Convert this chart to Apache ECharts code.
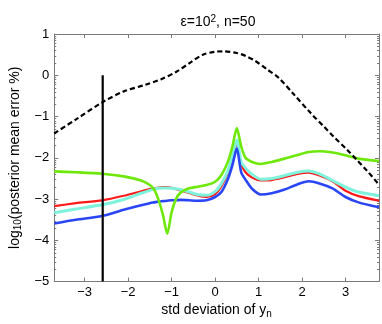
<!DOCTYPE html>
<html>
<head>
<meta charset="utf-8">
<script src="https://cdn.jsdelivr.net/npm/echarts@6/dist/echarts.min.js"></script>
<style>
  html, body { margin: 0; padding: 0; background: #fff; }
  #main { width: 382px; height: 324px; }
</style>
</head>
<body>
<div id="main"></div>
<script type="text/javascript">
// x positions (std deviation of y_n) shared by the coloured curves
var xs = [-3.7, -3.2, -2.6, -2.1, -1.7, -1.5, -1.4, -1.3, -1.2, -1.1, -1.0, -0.9, -0.8, -0.6, -0.4, -0.2,
          0.0, 0.15, 0.3, 0.4, 0.5, 0.6, 0.7, 0.85, 1.05, 1.3, 1.6, 1.9, 2.15, 2.4, 2.7, 3.0, 3.3, 3.77];

var greenY = [-2.33, -2.35, -2.385, -2.45, -2.55, -2.66, -2.77, -3.02, -3.38, -3.84, -3.32, -3.0, -2.85, -2.74, -2.70, -2.66,
              -2.58, -2.41, -2.08, -1.72, -1.28, -1.72, -2.0, -2.1, -2.15, -2.10, -2.02, -1.93, -1.86, -1.84, -1.87, -1.94, -2.02, -2.08];

var redY = [-3.17, -3.1, -3.03, -2.92, -2.81, -2.76, -2.74, -2.72, -2.71, -2.71, -2.73, -2.76, -2.79, -2.85, -2.91, -2.95,
            -2.88, -2.68, -2.35, -2.0, -1.65, -2.15, -2.35, -2.48, -2.55, -2.54, -2.47, -2.39, -2.36, -2.43, -2.57, -2.80, -2.93, -3.04];

var cyanY = [-3.33, -3.24, -3.14, -3.01, -2.86, -2.79, -2.76, -2.74, -2.73, -2.73, -2.74, -2.75, -2.77, -2.83, -2.89, -2.91,
             -2.82, -2.62, -2.30, -1.95, -1.57, -2.1, -2.25, -2.40, -2.52, -2.5, -2.43, -2.35, -2.32, -2.39, -2.55, -2.71, -2.83, -2.92];

var blueY = [-3.59, -3.5, -3.41, -3.26, -3.15, -3.10, -3.08, -3.06, -3.05, -3.04, -3.03, -3.03, -3.02, -3.03, -3.04, -3.03,
             -2.95, -2.82, -2.5, -2.17, -1.77, -2.35, -2.53, -2.75, -2.89, -2.86, -2.77, -2.64, -2.57, -2.62, -2.74, -2.95, -3.08, -3.2];

// dashed black curve
var dashX = [-3.7, -3.2, -2.585, -2.1, -1.6, -1.25, -0.9, -0.58, -0.28, 0.0, 0.2, 0.5, 0.7, 0.92, 1.2, 1.46, 1.8, 2.21, 2.5, 2.73, 3.04, 3.26, 3.5, 3.77];
var dashY = [-1.41, -1.07, -0.65, -0.39, -0.23, -0.1, 0.08, 0.3, 0.5, 0.57, 0.58, 0.54, 0.47, 0.35, 0.14, -0.06, -0.45, -0.93, -1.24, -1.49, -1.81, -2.05, -2.32, -2.65];

// vertical marker
var markX = -2.585;
var markY = [0, -5];

// log-style minor ticks on the y axis: decade start + fraction
var minorSteps = [0.301, 0.477, 0.602, 0.699, 0.778, 0.845, 0.903, 0.954];
var decadeStarts = [-5, -4, -3, -2, -1, 0];

var xMin = -3.7, xMax = 3.77, yMin = -5, yMax = 1;

function pairs(x, y) {
    var out = [];
    for (var i = 0; i < x.length; i++) out.push([x[i], y[i]]);
    return out;
}

var minorTicks = [];
for (var b = 0; b < decadeStarts.length; b++) {
    for (var m = 0; m < minorSteps.length; m++) {
        minorTicks.push([xMin, decadeStarts[b] + minorSteps[m]]);
    }
}

var axisGray = '#7a7a7a';
var font = "'Liberation Sans', Arial, Helvetica, sans-serif";
var minus = function (v) { return String(v).replace('-', '\u2212'); };

var dom = document.getElementById('main');
var myChart = echarts.init(dom, null, {renderer: 'canvas'});

var lineBase = function (name, data, color, width) {
    return {
        name: name,
        type: 'line',
        data: data,
        smooth: 0.25,
        symbol: 'none',
        silent: true,
        lineStyle: {color: color, width: width},
        z: 3
    };
};

var boxAxis = {
    axisLine: {show: true, onZero: false, lineStyle: {color: axisGray, width: 1}},
    axisTick: {show: true, inside: true, length: 4, lineStyle: {color: axisGray}},
    splitLine: {show: false}
};

var option = {
    backgroundColor: '#fff',
    animation: false,
    title: {
        text: '\u03b5=10{sup|2}, n=50',
        left: 213,
        textAlign: 'center',
        top: 9,
        textStyle: {
            fontFamily: font, fontSize: 14, fontWeight: 'normal', color: '#000',
            rich: {sup: {fontFamily: font, fontSize: 10, verticalAlign: 'top', padding: [0, 0, 7, 0], color: '#000'}}
        }
    },
    grid: {left: 48, right: 3, top: 34, bottom: 39, containLabel: false},
    xAxis: [echarts.util.merge({
        type: 'value',
        min: xMin, max: xMax,
        splitNumber: 7,
        name: 'std deviation of y{sub|n}',
        nameLocation: 'middle',
        nameGap: 13,
        nameTextStyle: {
            fontFamily: font, fontSize: 14, color: '#000',
            rich: {sub: {fontFamily: font, fontSize: 10, verticalAlign: 'bottom', padding: [7, 0, 0, 0], color: '#000'}}
        },
        axisLabel: {fontFamily: font, fontSize: 13, color: '#000', margin: 4, showMinLabel: false, showMaxLabel: false, formatter: minus}
    }, boxAxis), echarts.util.merge({
        type: 'value',
        position: 'top',
        min: xMin, max: xMax,
        splitNumber: 7,
        axisLabel: {show: false}
    }, boxAxis)],
    yAxis: [echarts.util.merge({
        type: 'value',
        min: yMin, max: yMax, interval: 1,
        name: 'log{sub|10}(posterior mean error %)',
        nameLocation: 'middle',
        nameGap: 28,
        nameRotate: 90,
        nameTextStyle: {
            fontFamily: font, fontSize: 14, color: '#000',
            rich: {sub: {fontFamily: font, fontSize: 10, verticalAlign: 'bottom', padding: [7, 0, 0, 0], color: '#000'}}
        },
        axisLabel: {fontFamily: font, fontSize: 13, color: '#000', margin: 5, formatter: minus}
    }, boxAxis), echarts.util.merge({
        type: 'value',
        position: 'right',
        min: yMin, max: yMax, interval: 1,
        axisLabel: {show: false}
    }, boxAxis)],
    series: [
        lineBase('red', pairs(xs, redY), '#ff1a1a', 2.2),
        lineBase('cyan', pairs(xs, cyanY), '#7ff2dc', 3),
        lineBase('blue', pairs(xs, blueY), '#2a45f5', 2.6),
        lineBase('green', pairs(xs, greenY), '#6ee80a', 2.6),
        {
            name: 'dashed',
            type: 'line',
            data: pairs(dashX, dashY),
            smooth: 0.3,
            symbol: 'none',
            silent: true,
            lineStyle: {color: '#000', width: 2.2, type: [5, 3]},
            z: 4
        },
        {
            name: 'marker',
            type: 'line',
            data: [[markX, markY[0]], [markX, markY[1]]],
            symbol: 'none',
            silent: true,
            lineStyle: {color: '#000', width: 2.2},
            z: 5
        },
        {
            name: 'minor ticks',
            type: 'custom',
            silent: true,
            data: minorTicks,
            renderItem: function (params, api) {
                var y = api.value(1);
                var l = api.coord([xMin, y]);
                var r = api.coord([xMax, y]);
                var yy = Math.round(l[1]) + 0.5;
                var st = {stroke: axisGray, lineWidth: 1};
                return {
                    type: 'group',
                    children: [
                        {type: 'line', shape: {x1: l[0], y1: yy, x2: l[0] + 2, y2: yy}, style: st},
                        {type: 'line', shape: {x1: r[0], y1: yy, x2: r[0] - 2, y2: yy}, style: st}
                    ]
                };
            },
            z: 2
        }
    ]
};

myChart.setOption(option);
</script>
</body>
</html>
